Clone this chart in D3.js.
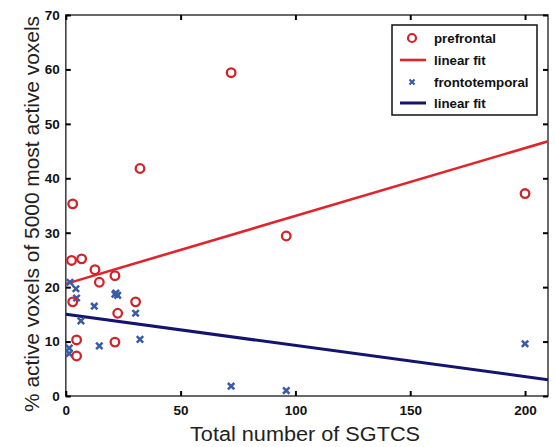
<!DOCTYPE html>
<html>
<head>
<meta charset="utf-8">
<script src="https://cdn.jsdelivr.net/npm/d3@7"></script>
<style>
  body { margin: 0; background: #fff; }
  svg { display: block; font-family: "Liberation Sans", Arial, sans-serif; }
</style>
</head>
<body>
<svg id="chart" width="555" height="447"></svg>
<script>
// values
var prefrontalX = [3, 2.5, 6.9, 12.7, 14.6, 21.4, 3, 30.4, 22.6, 4.7, 21.4, 4.7, 32.3, 72, 96, 200];
var prefrontalY = [35.3, 24.9, 25.2, 23.2, 20.9, 22.1, 17.3, 17.3, 15.2, 10.3, 9.9, 7.35, 41.8, 59.4, 29.4, 37.2];

var frontoX = [1.8, 4.4, 4.7, 12.4, 21.4, 22.6, 21.8, 30.4, 6.6, 32.3, 14.6, 1.5, 1.5, 72, 96, 200];
var frontoY = [20.9, 19.7, 18.0, 16.5, 18.7, 18.5, 18.9, 15.2, 13.8, 10.4, 9.2, 8.8, 7.8, 1.8, 1.0, 9.6];

var fitX = [0, 210];
var prefrontalFitY = [20.6, 46.8];
var frontoFitY = [15.0, 3.0];

var xTicks = [0, 50, 100, 150, 200];
var yTicks = [0, 10, 20, 30, 40, 50, 60, 70];

var legendLabels = ['prefrontal', 'linear fit', 'frontotemporal', 'linear fit'];

var red = '#d2232a', blue = '#3a5ba6', navy = '#14146e';

var svg = d3.select('#chart');
var pLeft = 65.8, pRight = 548, pTop = 15, pBottom = 396;

var x = d3.scaleLinear().domain([0, 210]).range([pLeft, pRight]);
var y = d3.scaleLinear().domain([0, 70]).range([pBottom, pTop]);

svg.append('defs').append('clipPath').attr('id', 'clip')
  .append('rect').attr('x', pLeft).attr('y', pTop)
  .attr('width', pRight - pLeft).attr('height', pBottom - pTop);

// frame
svg.append('rect')
  .attr('x', pLeft).attr('y', pTop)
  .attr('width', pRight - pLeft).attr('height', pBottom - pTop)
  .attr('fill', 'none').attr('stroke', '#444').attr('stroke-width', 1.6);

function styleAxis(g, labels){
  g.select('.domain').remove();
  g.selectAll('.tick line').attr('stroke', '#000').attr('stroke-width', 2);
  if(!labels) g.selectAll('.tick text').remove();
  g.selectAll('.tick text')
    .attr('fill', '#111')
    .style('font-size', '13.5px').style('font-weight', 'bold');
}

svg.append('g').attr('transform', 'translate(0,' + pBottom + ')')
  .call(d3.axisBottom(x).tickValues(xTicks).tickSizeInner(-5).tickSizeOuter(0).tickPadding(9))
  .call(styleAxis, true);
svg.append('g').attr('transform', 'translate(0,' + pTop + ')')
  .call(d3.axisTop(x).tickValues(xTicks).tickSizeInner(-5).tickSizeOuter(0))
  .call(styleAxis, false);
svg.append('g').attr('transform', 'translate(' + pLeft + ',0)')
  .call(d3.axisLeft(y).tickValues(yTicks).tickSizeInner(-5).tickSizeOuter(0).tickPadding(6))
  .call(styleAxis, true);
svg.append('g').attr('transform', 'translate(' + pRight + ',0)')
  .call(d3.axisRight(y).tickValues(yTicks).tickSizeInner(-5).tickSizeOuter(0))
  .call(styleAxis, false);

// axis titles
svg.append('text')
  .attr('x', 190).attr('y', 441)
  .attr('textLength', 230).attr('lengthAdjust', 'spacingAndGlyphs')
  .style('font-size', '20px').attr('fill', '#222')
  .text('Total number of SGTCS');

svg.append('text')
  .attr('transform', 'translate(39,412) rotate(-90)')
  .attr('textLength', 396).attr('lengthAdjust', 'spacingAndGlyphs')
  .style('font-size', '20px').attr('fill', '#222')
  .text('% active voxels of 5000 most active voxels');

var plot = svg.append('g').attr('clip-path', 'url(#clip)');

var line = d3.line().x(function(d){ return x(d[0]); }).y(function(d){ return y(d[1]); });

plot.append('path')
  .datum(d3.zip(fitX, prefrontalFitY))
  .attr('d', line).attr('fill', 'none')
  .attr('stroke', '#e0242c').attr('stroke-width', 2.6);

plot.append('path')
  .datum(d3.zip(fitX, frontoFitY))
  .attr('d', line).attr('fill', 'none')
  .attr('stroke', navy).attr('stroke-width', 3);

var cross = 'M-3.2,-3.2L3.2,3.2M-3.2,3.2L3.2,-3.2';

plot.selectAll('.fronto')
  .data(d3.zip(frontoX, frontoY))
  .enter().append('path')
  .attr('class', 'fronto')
  .attr('transform', function(d){ return 'translate(' + x(d[0]) + ',' + y(d[1]) + ')'; })
  .attr('d', cross)
  .attr('stroke', blue).attr('stroke-width', 2.5);

plot.selectAll('.prefrontal')
  .data(d3.zip(prefrontalX, prefrontalY))
  .enter().append('circle')
  .attr('class', 'prefrontal')
  .attr('cx', function(d){ return x(d[0]); })
  .attr('cy', function(d){ return y(d[1]); })
  .attr('r', 4.3)
  .attr('fill', 'none')
  .attr('stroke', red).attr('stroke-width', 2.3);

// legend
var lg = svg.append('g');
lg.append('rect')
  .attr('x', 392).attr('y', 25).attr('width', 145).attr('height', 90)
  .attr('fill', '#fff').attr('stroke', '#111').attr('stroke-width', 1.5);

var rowY = [38, 60, 82, 103];
lg.append('circle').attr('cx', 412).attr('cy', rowY[0]).attr('r', 4)
  .attr('fill', 'none').attr('stroke', red).attr('stroke-width', 2.2);
lg.append('line').attr('x1', 400).attr('x2', 426).attr('y1', rowY[1]).attr('y2', rowY[1])
  .attr('stroke', '#e0242c').attr('stroke-width', 2.6);
lg.append('path').attr('transform', 'translate(412,' + rowY[2] + ')')
  .attr('d', 'M-2.5,-2.5L2.5,2.5M-2.5,2.5L2.5,-2.5')
  .attr('stroke', blue).attr('stroke-width', 2.2);
lg.append('line').attr('x1', 400).attr('x2', 426).attr('y1', rowY[3]).attr('y2', rowY[3])
  .attr('stroke', navy).attr('stroke-width', 3);

lg.selectAll('.lt')
  .data(legendLabels)
  .enter().append('text')
  .attr('x', 434)
  .attr('y', function(d, i){ return rowY[i] + 5; })
  .style('font-size', '13.3px').style('font-weight', 'bold')
  .attr('fill', '#111')
  .text(function(d){ return d; });
</script>
</body>
</html>
